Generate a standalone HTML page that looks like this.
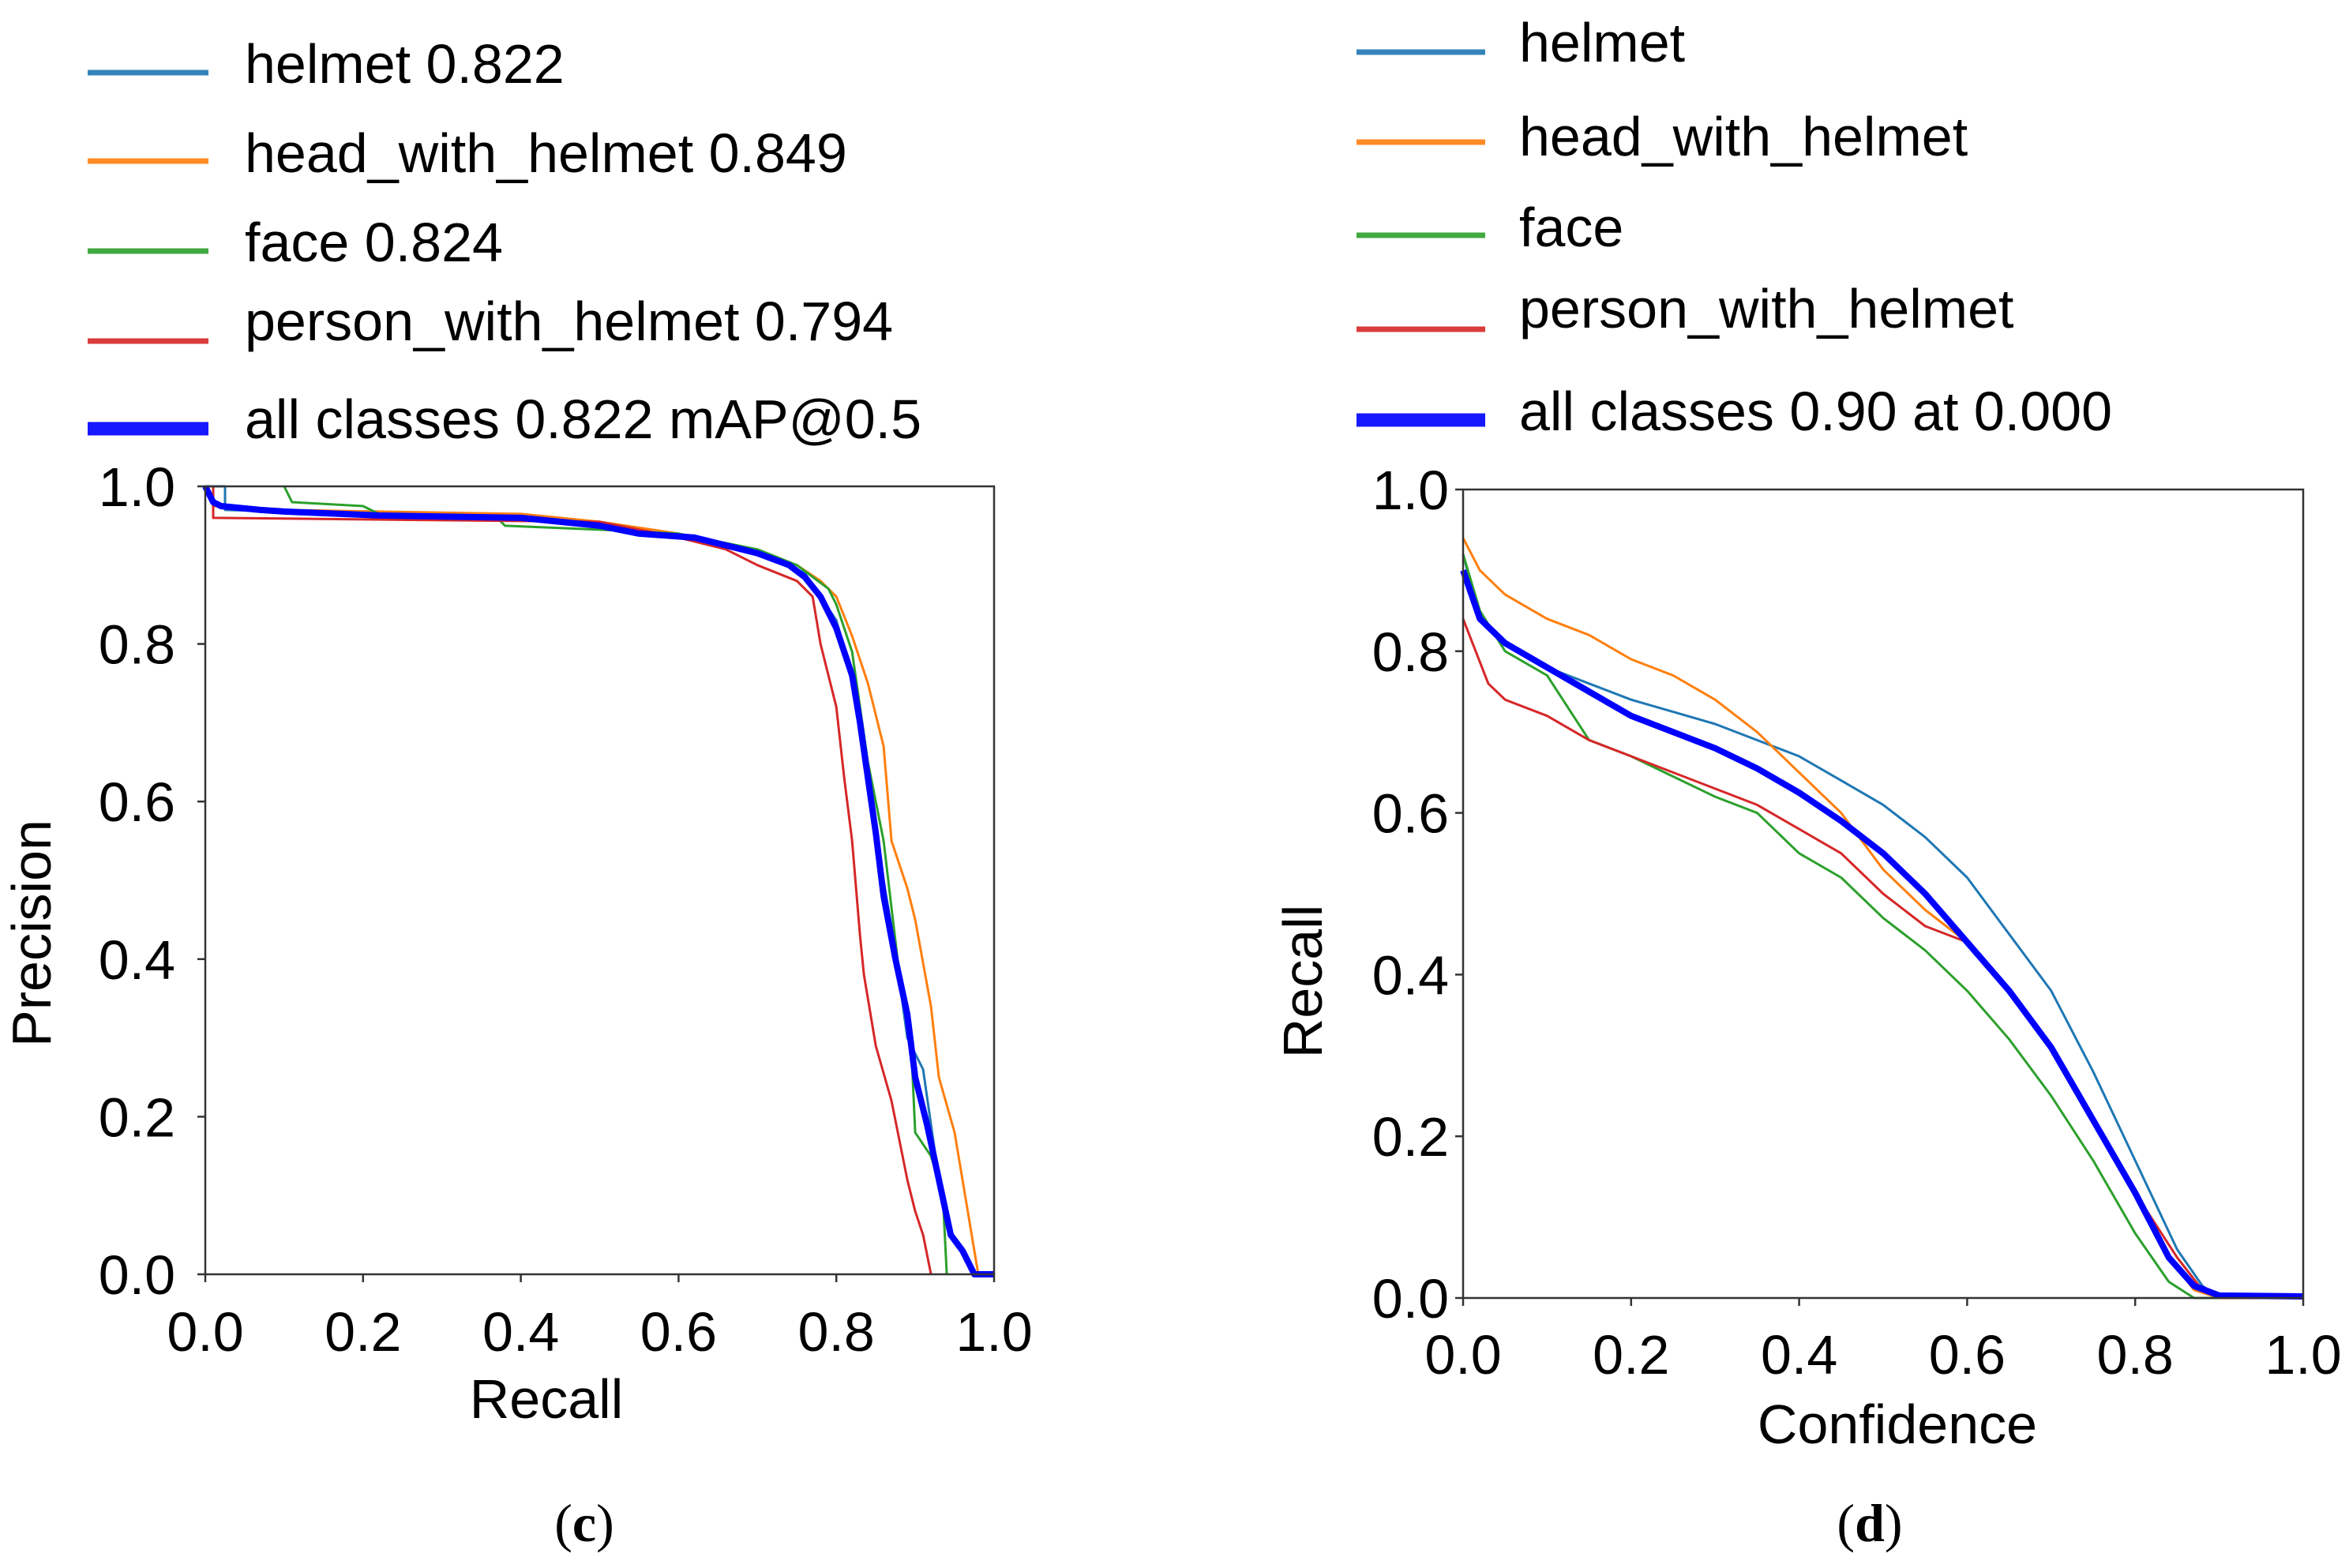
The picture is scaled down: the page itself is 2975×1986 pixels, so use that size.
<!DOCTYPE html>
<html><head><meta charset="utf-8"><style>
html,body{margin:0;padding:0;background:#fff;}
svg{display:block;font-family:"Liberation Sans",Arial,sans-serif;}
</style></head><body>
<svg id="fig" width="2975" height="1986" viewBox="0 0 2975 1986" xmlns="http://www.w3.org/2000/svg">
<rect width="2975" height="1986" fill="#fff"/>
<g id="legendL"></g>
<g id="legendR"></g>
<g id="chartL"></g>
<g id="chartR"></g>
<text x="740" y="1952" font-family="Liberation Serif,serif" font-size="68" text-anchor="middle">(<tspan font-weight="bold">c</tspan>)</text>
<text x="2368" y="1952" font-family="Liberation Serif,serif" font-size="68" text-anchor="middle">(<tspan font-weight="bold">d</tspan>)</text>
</svg>
<script>
const ticks = [0, 0.2, 0.4, 0.6, 0.8, 1.0];
const tickLabels = ["0.0","0.2","0.4","0.6","0.8","1.0"];
const colors = ["#1f77b4","#ff7f0e","#2ca02c","#d62728","#0000ff"];
const legendLeft = ["helmet 0.822","head_with_helmet 0.849","face 0.824","person_with_helmet 0.794","all classes 0.822 mAP@0.5"];
const legendRight = ["helmet","head_with_helmet","face","person_with_helmet","all classes 0.90 at 0.000"];

// PR curves: [recall, precision]
const prHelmet = [[0,1.0],[0.025,1.0],[0.025,0.97],[0.2,0.965],[0.4,0.96],[0.5,0.95],[0.6,0.94],[0.7,0.915],[0.76,0.89],[0.8,0.83],[0.82,0.76],[0.84,0.63],[0.86,0.5],[0.875,0.41],[0.89,0.3],[0.91,0.26],[0.93,0.12],[0.945,0.05],[0.96,0.03],[0.975,0.0],[1.0,0.0]];
const prHead = [[0,1.0],[0.01,0.975],[0.1,0.97],[0.4,0.965],[0.5,0.955],[0.6,0.94],[0.7,0.915],[0.75,0.9],[0.78,0.88],[0.8,0.86],[0.82,0.81],[0.84,0.75],[0.86,0.67],[0.87,0.55],[0.89,0.49],[0.9,0.45],[0.92,0.34],[0.93,0.25],[0.95,0.18],[0.96,0.12],[0.975,0.03],[0.98,0.0]];
const prFace = [[0.1,1.0],[0.11,0.98],[0.2,0.975],[0.22,0.965],[0.37,0.96],[0.38,0.95],[0.5,0.945],[0.6,0.94],[0.7,0.92],[0.75,0.9],[0.79,0.87],[0.8,0.85],[0.82,0.79],[0.84,0.65],[0.86,0.55],[0.88,0.38],[0.895,0.29],[0.9,0.18],[0.92,0.15],[0.935,0.1],[0.94,0.0]];
const prPerson = [[0.01,1.0],[0.01,0.96],[0.5,0.955],[0.6,0.935],[0.66,0.92],[0.7,0.9],[0.75,0.88],[0.77,0.86],[0.78,0.8],[0.8,0.72],[0.81,0.63],[0.82,0.55],[0.83,0.43],[0.835,0.38],[0.85,0.29],[0.87,0.22],[0.89,0.12],[0.9,0.08],[0.91,0.05],[0.92,0.0]];
const prAll = [[0,1.0],[0.01,0.98],[0.02,0.975],[0.07,0.97],[0.1,0.968],[0.22,0.963],[0.4,0.96],[0.5,0.95],[0.55,0.94],[0.62,0.935],[0.66,0.925],[0.7,0.915],[0.74,0.9],[0.76,0.885],[0.78,0.86],[0.8,0.82],[0.82,0.76],[0.83,0.7],[0.84,0.63],[0.85,0.56],[0.86,0.48],[0.875,0.4],[0.89,0.33],[0.9,0.25],[0.915,0.19],[0.93,0.12],[0.945,0.05],[0.96,0.03],[0.975,0.0],[1.0,0.0]];

// Recall-confidence curves: [confidence, recall]
const rcHelmet = [[0,0.92],[0.02,0.84],[0.05,0.81],[0.1,0.78],[0.15,0.76],[0.2,0.74],[0.3,0.71],[0.4,0.67],[0.45,0.64],[0.5,0.61],[0.55,0.57],[0.6,0.52],[0.65,0.45],[0.7,0.38],[0.75,0.28],[0.8,0.17],[0.85,0.06],[0.88,0.015],[0.9,0.0],[1.0,0.0]];
const rcHead = [[0,0.94],[0.02,0.9],[0.05,0.87],[0.1,0.84],[0.15,0.82],[0.2,0.79],[0.25,0.77],[0.3,0.74],[0.35,0.7],[0.4,0.65],[0.45,0.6],[0.5,0.53],[0.55,0.48],[0.6,0.44],[0.65,0.38],[0.7,0.31],[0.75,0.22],[0.8,0.13],[0.84,0.05],[0.87,0.01],[0.9,0.0],[1.0,0.0]];
const rcFace = [[0,0.92],[0.02,0.85],[0.05,0.8],[0.1,0.77],[0.15,0.69],[0.2,0.67],[0.25,0.645],[0.3,0.62],[0.35,0.6],[0.4,0.55],[0.45,0.52],[0.5,0.47],[0.55,0.43],[0.6,0.38],[0.65,0.32],[0.7,0.25],[0.75,0.17],[0.8,0.08],[0.84,0.02],[0.87,0.0],[1.0,0.0]];
const rcPerson = [[0,0.84],[0.03,0.76],[0.05,0.74],[0.1,0.72],[0.15,0.69],[0.2,0.67],[0.25,0.65],[0.3,0.63],[0.35,0.61],[0.4,0.58],[0.45,0.55],[0.5,0.5],[0.55,0.46],[0.6,0.44],[0.65,0.38],[0.7,0.31],[0.75,0.22],[0.8,0.13],[0.85,0.05],[0.88,0.01],[0.9,0.0],[1.0,0.0]];
const rcAll = [[0,0.9],[0.02,0.84],[0.05,0.81],[0.1,0.78],[0.15,0.75],[0.2,0.72],[0.25,0.7],[0.3,0.68],[0.35,0.655],[0.4,0.625],[0.45,0.59],[0.5,0.55],[0.55,0.5],[0.6,0.44],[0.65,0.38],[0.7,0.31],[0.75,0.22],[0.8,0.13],[0.84,0.05],[0.87,0.015],[0.9,0.003],[1.0,0.002]];

const NS = "http://www.w3.org/2000/svg";
function mk(tag, attrs, parent){const e=document.createElementNS(NS,tag);for(const k in attrs)e.setAttribute(k,attrs[k]);parent.appendChild(e);return e;}

function drawChart(g, box, series, names, xTitle, yTitle, xTitlePos, yTitlePos, prefix){
  const sx = v => box.x0 + v*(box.x1-box.x0);
  const sy = v => box.y1 - v*(box.y1-box.y0);
  series.forEach((s,i)=>{
    const d = s.map((p,j)=>(j?"L":"M")+sx(p[0]).toFixed(1)+" "+sy(p[1]).toFixed(1)).join(" ");
    const path = mk("path",{d:d,fill:"none",stroke:colors[i],"stroke-width":i==4?8:3,"stroke-linejoin":"round"},g);
    
    
  });
  const frame = mk("rect",{x:box.x0,y:box.y0,width:box.x1-box.x0,height:box.y1-box.y0,fill:"none",stroke:"#333","stroke-width":2.5},g);
  
  
  ticks.forEach((t,i)=>{
    mk("line",{x1:sx(t),x2:sx(t),y1:box.y1,y2:box.y1+10,stroke:"#333","stroke-width":2.5},g);
    mk("line",{x1:box.x0-10,x2:box.x0,y1:sy(t),y2:sy(t),stroke:"#333","stroke-width":2.5},g);
    const xl = mk("text",{x:sx(t),y:box.xLabelY,"font-size":70,"text-anchor":"middle"},g);
    xl.textContent = tickLabels[i];
    
    
    const yl = mk("text",{x:box.yLabelX,y:sy(t)+25,"font-size":70,"text-anchor":"end"},g);
    yl.textContent = tickLabels[i];
    
    
  });
  const xt = mk("text",{x:xTitlePos[0],y:xTitlePos[1],"font-size":70,"text-anchor":"middle"},g);
  xt.textContent = xTitle;
  
  
  const yt = mk("text",{x:0,y:0,"font-size":70,"text-anchor":"middle",transform:"translate("+yTitlePos[0]+","+yTitlePos[1]+") rotate(-90)"},g);
  yt.textContent = yTitle;
  
  
}

function drawLegend(g, labels, lx0, lx1, rowsY, baseY, tx, prefix){
  labels.forEach((lab,i)=>{
    const ln = mk("line",{x1:lx0,x2:lx1,y1:rowsY[i],y2:rowsY[i],stroke:colors[i],"stroke-width":i==4?17:7,opacity:0.9},g);
    
    
    const t = mk("text",{x:tx,y:baseY[i],"font-size":70},g);
    t.textContent = lab;
    
    
  });
}

const names = ["helmet","head-with-helmet","face","person-with-helmet","all-classes"];
drawChart(document.getElementById("chartL"),
  {x0:260,x1:1259,y0:616,y1:1614,xLabelY:1711,yLabelX:222},
  [prHelmet,prHead,prFace,prPerson,prAll], names, "Recall", "Precision", [692,1796],[64,1182], "pr");
drawChart(document.getElementById("chartR"),
  {x0:1853,x1:2917,y0:620,y1:1644,xLabelY:1740,yLabelX:1835},
  [rcHelmet,rcHead,rcFace,rcPerson,rcAll], names, "Confidence", "Recall", [2403,1828],[1674,1243], "rc");
drawLegend(document.getElementById("legendL"), legendLeft, 111, 264, [92,204,318,432,543], [105,218,331,431,555], 310, "pr");
drawLegend(document.getElementById("legendR"), legendRight, 1718, 1881, [66,180,298,417,532], [78,197,312,415,545], 1924, "rc");
</script>
</body></html>
